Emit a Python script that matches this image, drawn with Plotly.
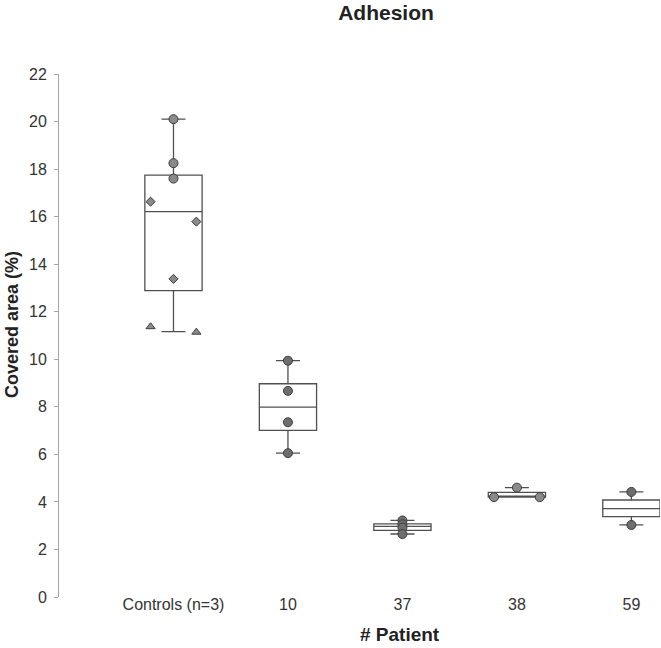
import plotly.graph_objects as go

# ---- data ----
categories = ["Controls (n=3)", "10", "37", "38", "59"]
q1 = [12.89, 7.01, 2.80, 4.20, 3.38]
median = [16.21, 7.99, 2.97, 4.20, 3.72]
q3 = [17.75, 8.97, 3.08, 4.40, 4.08]
lowerfence = [11.16, 6.05, 2.65, 4.20, 3.03]
upperfence = [20.10, 9.94, 3.22, 4.60, 4.42]

controls_circles = [20.10, 18.25, 17.60]
controls_diamonds = [16.63, 15.79, 13.38]
controls_triangles = [11.37, 11.14]
p10_points = [9.94, 8.67, 7.35, 6.05]
p37_points = [3.22, 3.06, 2.92, 2.65]
p38_points = [4.60, 4.20, 4.20]
p59_points = [4.42, 3.03]

y_ticks = list(range(0, 23, 2))

# ---- style (positions of jittered points, colours) ----
diamond_offsets = [-0.2, 0.2, 0.0]
triangle_offsets = [-0.2, 0.2]
p38_offsets = [0.0, -0.2, 0.2]
FONT = "Arial, Liberation Sans, sans-serif"
BOX_LINE = "#505050"
PT_LIGHT = "#8a8a8a"
PT_DARK = "#6e6e6e"
PT_EDGE = "#3c3c3c"

fig = go.Figure()

for i, cat in enumerate(categories):
    fig.add_trace(go.Box(
        x=[i], q1=[q1[i]], median=[median[i]], q3=[q3[i]],
        lowerfence=[lowerfence[i]], upperfence=[upperfence[i]],
        width=0.5, whiskerwidth=0.42, boxpoints=False,
        fillcolor="white", line=dict(color=BOX_LINE, width=1.3),
        showlegend=False, hoverinfo="skip",
    ))


def pts(xs, ys, symbol, size, color):
    fig.add_trace(go.Scatter(
        x=xs, y=ys, mode="markers", showlegend=False,
        marker=dict(symbol=symbol, size=size, color=color,
                    line=dict(color=PT_EDGE, width=1)),
    ))


pts([0] * len(controls_circles), controls_circles, "circle", 9, PT_LIGHT)
pts([0 + o for o in diamond_offsets], controls_diamonds, "diamond", 7, PT_LIGHT)
pts([0 + o for o in triangle_offsets], controls_triangles, "triangle-up", 8, PT_LIGHT)
pts([1] * len(p10_points), p10_points, "circle", 9, PT_DARK)
pts([2] * len(p37_points), p37_points, "circle", 9, PT_DARK)
pts([3 + o for o in p38_offsets], p38_points, "circle", 9, PT_LIGHT)
pts([4] * len(p59_points), p59_points, "circle", 9, PT_DARK)

fig.update_layout(
    width=661, height=648,
    margin=dict(l=59, r=1, t=74, b=51),
    plot_bgcolor="white", paper_bgcolor="white",
    font=dict(family=FONT, size=16, color="#333333"),
    title=dict(text="<b>Adhesion</b>", x=(386 - 59) / 601, xanchor="center",
               xref="paper",
               y=1 - 13 / 648, yanchor="middle", yref="container",
               font=dict(size=21, color="#222222")),
    xaxis=dict(range=[-1, 4.25], tickmode="array",
               tickvals=list(range(len(categories))), ticktext=categories,
               showline=False, showgrid=False, zeroline=False, ticks="",
               ticklabelstandoff=-4),
    yaxis=dict(range=[0, 22], tickmode="array", tickvals=y_ticks,
               showline=True, linecolor="#a6a6a6", linewidth=1,
               ticks="outside", ticklen=4, tickcolor="#a6a6a6",
               showgrid=False, zeroline=False, ticklabelstandoff=4),
    annotations=[
        dict(text="<b># Patient</b>", xref="paper", yref="paper",
             x=(400 - 59) / 601, y=-(634 - 597) / 523, xanchor="center",
             yanchor="middle", showarrow=False,
             font=dict(size=19, color="#222222")),
        dict(text="<b>Covered area (%)</b>", xref="paper", yref="paper",
             x=(12 - 59) / 601, y=(597 - 325) / 523, xanchor="center",
             yanchor="middle", textangle=-90, showarrow=False,
             font=dict(size=18, color="#222222")),
    ],
)

fig.write_html("out.html")
